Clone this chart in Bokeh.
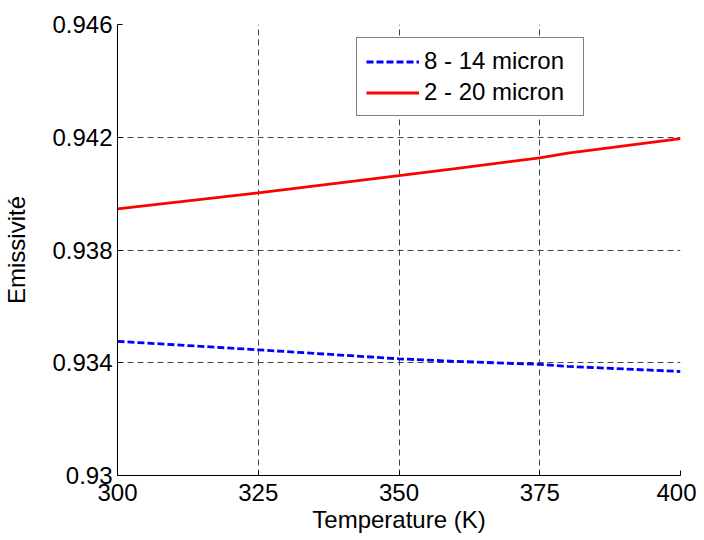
from bokeh.plotting import figure
from bokeh.models import FixedTicker, Legend, LegendItem, Range1d
from bokeh.embed import file_html
from bokeh.resources import INLINE

temperature = [300, 325, 350, 360, 375, 380, 400]
emis_8_14 = [0.93476, 0.93446, 0.93414, 0.93405, 0.93394, 0.93387, 0.93369]
emis_2_20 = [0.93946, 0.94003, 0.94064, 0.94089, 0.94127, 0.94144, 0.94195]
x_ticks = [300, 325, 350, 375, 400]
y_ticks = [0.930, 0.934, 0.938, 0.942, 0.946]
y_tick_labels = {0.930: "0.93", 0.934: "0.934", 0.938: "0.938", 0.942: "0.942", 0.946: "0.946"}

FONT = "Liberation Sans"

p = figure(frame_width=563, frame_height=451, output_backend="svg", toolbar_location=None,
           x_range=Range1d(300, 400), y_range=Range1d(0.930, 0.946),
           min_border_left=117, min_border_top=24, min_border_right=16, min_border_bottom=57)
p.outline_line_color = None
p.background_fill_color = "white"

r1 = p.line(temperature, emis_8_14, line_color="#0000ff", line_width=2.8, line_dash="7 3")
r2 = p.line(temperature, emis_2_20, line_color="#ff0000", line_width=2.8)

p.xaxis.ticker = FixedTicker(ticks=x_ticks)
p.yaxis.ticker = FixedTicker(ticks=y_ticks)
p.yaxis.major_label_overrides = y_tick_labels

for ax in (p.xaxis[0], p.yaxis[0]):
    ax.axis_line_color = "black"
    ax.axis_line_width = 1
    ax.major_tick_in = 5
    ax.major_tick_out = 0
    ax.minor_tick_line_color = None
    ax.major_label_text_font = FONT
    ax.major_label_text_font_size = "24px"
    ax.major_label_text_color = "black"
    ax.axis_label_text_font = FONT
    ax.axis_label_text_font_size = "24px"
    ax.axis_label_text_font_style = "normal"
    ax.axis_label_text_color = "black"

p.xaxis.axis_label = "Temperature (K)"
p.yaxis.axis_label = "Emissivité"
p.xaxis.major_label_standoff = 8
p.xaxis.axis_label_standoff = 2
p.yaxis.major_label_standoff = 5
p.yaxis.axis_label_standoff = 19

for g in (p.xgrid[0], p.ygrid[0]):
    g.grid_line_color = "#444444"
    g.grid_line_dash = "6 4"
    g.grid_line_width = 1
p.xgrid.ticker = FixedTicker(ticks=x_ticks)
p.ygrid.ticker = FixedTicker(ticks=y_ticks)

legend = Legend(items=[LegendItem(label="8 - 14 micron", renderers=[r1]),
                       LegendItem(label="2 - 20 micron", renderers=[r2])],
                location=(239, 359))
legend.border_line_color = "black"
legend.border_line_width = 1
legend.background_fill_color = "white"
legend.background_fill_alpha = 1
legend.label_text_font = FONT
legend.label_text_font_size = "24px"
legend.label_text_color = "black"
legend.glyph_width = 53
legend.glyph_height = 27
legend.label_height = 27
legend.label_width = 150
legend.label_standoff = 5
legend.padding = 9
legend.spacing = 3
legend.margin = 0
p.add_layout(legend, "center")

open("out.html", "w").write(file_html(p, INLINE))
